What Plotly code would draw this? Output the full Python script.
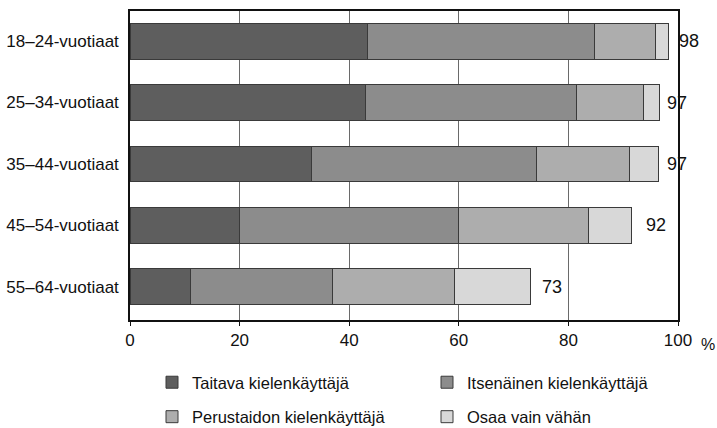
import plotly.graph_objects as go

categories = ["18–24-vuotiaat", "25–34-vuotiaat", "35–44-vuotiaat", "45–54-vuotiaat", "55–64-vuotiaat"]
series_names = ["Taitava kielenkäyttäjä", "Itsenäinen kielenkäyttäjä",
                "Perustaidon kielenkäyttäjä", "Osaa vain vähän"]
taitava = [43.3, 43.0, 33.1, 19.9, 11.1]
itsenainen = [41.4, 38.4, 41.1, 40.1, 25.8]
perustaidon = [11.2, 12.3, 16.9, 23.6, 22.4]
osaa_vahan = [2.3, 2.9, 5.4, 7.9, 13.7]
totals = [98, 97, 97, 92, 73]
x_ticks = [0, 20, 40, 60, 80, 100]

FONT = "Liberation Sans, Arial, sans-serif"
colors = ["#5e5e5e", "#8c8c8c", "#adadad", "#d8d8d8"]
legends = ["legend", "legend2", "legend", "legend2"]

fig = go.Figure()
for i, (name, vals) in enumerate(zip(series_names, [taitava, itsenainen, perustaidon, osaa_vahan])):
    fig.add_trace(go.Bar(
        y=categories, x=vals, name=name, orientation="h",
        marker=dict(color=colors[i], line=dict(color="#3a3a3a", width=1)),
        width=0.585, legend=legends[i], legendgroup=name,
        hoverinfo="x+y+name",
    ))

label_shifts = [10, 3, 3, 10, 10]
for cat, tot, sh in zip(categories, totals, label_shifts):
    fig.add_annotation(x=tot, y=cat, text=str(tot), showarrow=False,
                       xanchor="left", xshift=sh,
                       font=dict(family=FONT, size=18, color="#111"))

fig.add_annotation(xref="paper", yref="paper", x=1, y=0, text="%",
                   showarrow=False, xanchor="center", yanchor="middle",
                   xshift=30, yshift=-24,
                   font=dict(family=FONT, size=16, color="#111"))

legend_common = dict(xref="container", yref="container", xanchor="left", yanchor="top",
                     orientation="v", traceorder="grouped", tracegroupgap=10,
                     font=dict(family=FONT, size=16.5, color="#111"),
                     bgcolor="rgba(0,0,0,0)", borderwidth=0)

fig.update_layout(
    width=717, height=428,
    barmode="stack",
    plot_bgcolor="white", paper_bgcolor="white",
    margin=dict(l=130, r=39, t=11, b=108, autoexpand=False),
    font=dict(family=FONT, size=17, color="#111"),
    showlegend=True,
    legend=dict(x=152 / 717, y=1 - 365 / 428, **legend_common),
    legend2=dict(x=427 / 717, y=1 - 365 / 428, **legend_common),
)
fig.update_xaxes(range=[0, 100], tickvals=x_ticks, ticktext=[str(v) for v in x_ticks],
                 showgrid=True, gridcolor="#6a6a6a", gridwidth=1,
                 showline=True, linecolor="#111", linewidth=1.5, mirror=True,
                 ticks="outside", ticklen=4, tickcolor="#111", automargin=False,
                 tickfont=dict(family=FONT, size=17, color="#111"), zeroline=False)
fig.update_yaxes(categoryorder="array", categoryarray=categories,
                 range=[4.54, -0.49], showgrid=False, automargin=False,
                 showline=True, linecolor="#111", linewidth=1.5, mirror=True,
                 ticks="", ticklabelstandoff=6,
                 tickfont=dict(family=FONT, size=17, color="#111"))

fig.write_html("out.html", config={"displayModeBar": False},
               post_script="document.body.style.margin='0';document.body.style.overflow='hidden';")
